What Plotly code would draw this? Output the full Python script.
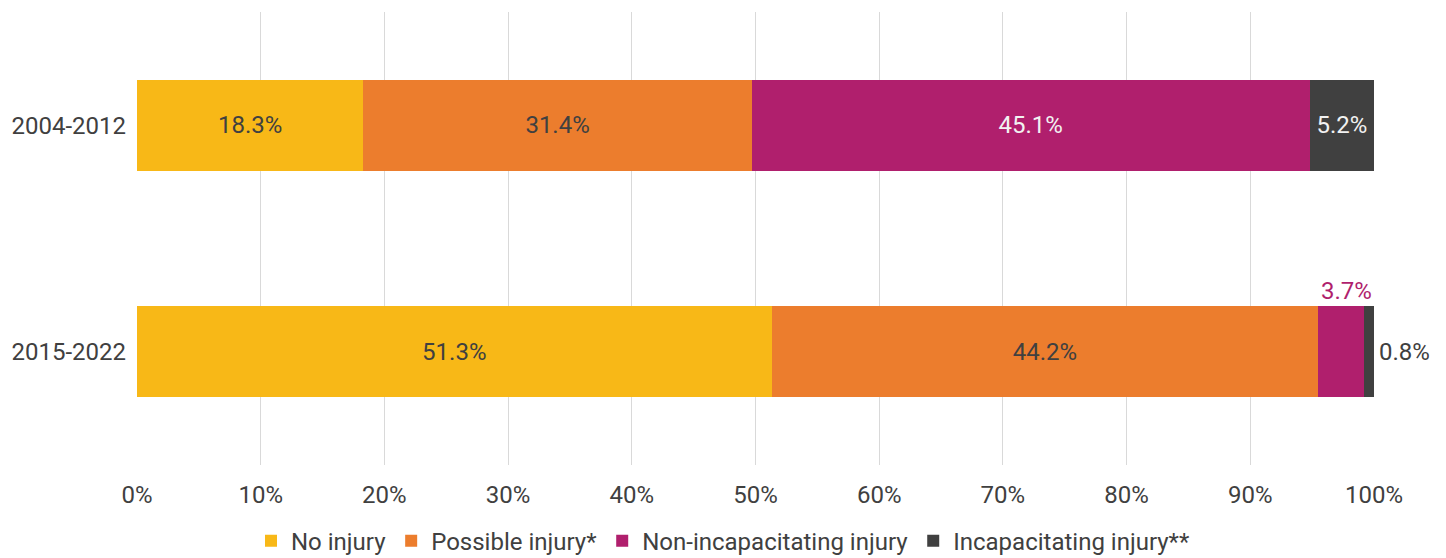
import plotly.graph_objects as go

# Injury severity shares by period (percent of cases)
periods = ["2004-2012", "2015-2022"]
no_injury = [18.3, 51.3]
possible_injury = [31.4, 44.2]
non_incapacitating = [45.1, 3.7]
incapacitating = [5.2, 0.8]

series_names = ["No injury", "Possible injury*", "Non-incapacitating injury",
                "Incapacitating injury**"]
series_values = [no_injury, possible_injury, non_incapacitating, incapacitating]
series_colors = ["#F8B817", "#EC7D2D", "#B01F6D", "#404040"]
label_colors = ["#404040", "#404040", "#F2F2F2", "#F2F2F2"]

FONT = "Roboto, Arial, sans-serif"
FS = 24

# Values too narrow to carry an inside label are annotated separately
SMALL = 4.0

fig = go.Figure()
for name, vals, col, lcol in zip(series_names, series_values, series_colors, label_colors):
    texts = [f"{v:.1f}%" if v >= SMALL else "" for v in vals]
    fig.add_trace(go.Bar(
        y=periods, x=vals, name=name, orientation="h",
        marker=dict(color=col, line=dict(width=0)),
        width=0.4,
        text=texts, textposition="inside", insidetextanchor="middle",
        textfont=dict(family=FONT, size=FS, color=lcol),
        textangle=0,
        constraintext="none",
        hoverinfo="skip",
    ))

# Outside labels for the thin segments of the second period
i = 1
end_mag = no_injury[i] + possible_injury[i] + non_incapacitating[i]
end_all = end_mag + incapacitating[i]
fig.add_annotation(x=end_all, y=periods[i], text=f"{non_incapacitating[i]:.1f}%",
                   xanchor="right", yanchor="bottom", yshift=45, showarrow=False,
                   font=dict(family=FONT, size=FS, color=series_colors[2]))
fig.add_annotation(x=end_all, y=periods[i], text=f"{incapacitating[i]:.1f}%",
                   xanchor="left", yanchor="middle", xshift=3, showarrow=False,
                   font=dict(family=FONT, size=FS, color="#404040"))

fig.update_layout(
    barmode="stack",
    width=1446, height=558,
    margin=dict(l=137, r=72, t=12, b=93, autoexpand=False),
    paper_bgcolor="white", plot_bgcolor="white",
    font=dict(family=FONT, size=FS, color="#404040"),
    showlegend=True,
    legend=dict(
        orientation="h", xref="container", yref="paper",
        x=0.5, xanchor="center", y=-0.168, yanchor="middle",
        font=dict(family=FONT, size=FS, color="#404040"),
        traceorder="normal", itemclick=False, itemdoubleclick=False,
    ),
    uniformtext=dict(mode=False),
)
fig.update_xaxes(
    range=[0, 100], tickvals=[0, 10, 20, 30, 40, 50, 60, 70, 80, 90, 100],
    ticktext=[f"{v}%" for v in range(0, 101, 10)],
    tickangle=0,
    showgrid=True, gridcolor="#D9D9D9", gridwidth=1,
    zeroline=False, showline=False, ticks="",
    ticklabelstandoff=13,
    tickfont=dict(family=FONT, size=FS, color="#404040"),
)
fig.update_yaxes(
    categoryorder="array", categoryarray=periods, autorange="reversed",
    range=[1.5, -0.5],
    showgrid=False, zeroline=False, showline=False, ticks="",
    ticklabelstandoff=10,
    tickfont=dict(family=FONT, size=FS, color="#404040"),
)

fig.write_html("out.html")
